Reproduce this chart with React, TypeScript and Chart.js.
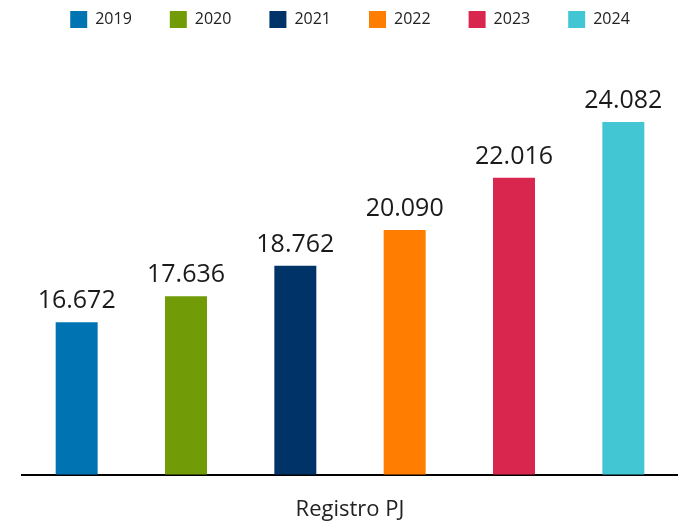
import React, { useEffect, useRef } from "react";
import { Chart, registerables } from "chart.js";

Chart.register(...registerables);

const categories = ["Registro PJ"];
const years = ["2019", "2020", "2021", "2022", "2023", "2024"];
const values = [16672, 17636, 18762, 20090, 22016, 24082];
const colors = ["#0073b2", "#729b08", "#003468", "#ff7d00", "#d8264e", "#43c6d4"];

const fmt = (v: number) => String(v).replace(/\B(?=(\d{3})+(?!\d))/g, ".");

const valueLabels = {
  id: "valueLabels",
  afterDatasetsDraw(chart: any) {
    const ctx = chart.ctx;
    ctx.save();
    ctx.font = '400 25px "Open Sans", sans-serif';
    ctx.fillStyle = "#1a1a1a";
    ctx.textAlign = "center";
    ctx.textBaseline = "alphabetic";
    chart.data.datasets.forEach((ds: any, i: number) => {
      const meta = chart.getDatasetMeta(i);
      meta.data.forEach((el: any, j: number) => {
        const v = ds.data[j];
        if (v == null) return;
        ctx.fillText(fmt(v), el.x, el.y - 14);
      });
    });
    ctx.restore();
  },
};

export default function App() {
  const ref = useRef<HTMLCanvasElement | null>(null);
  useEffect(() => {
    if (!ref.current) return;
    const chart = new Chart(ref.current, {
      type: "bar",
      data: {
        labels: categories,
        datasets: years.map((y, i) => ({
          label: y,
          data: [values[i]],
          backgroundColor: colors[i],
          borderWidth: 0,
          categoryPercentage: 1,
          barPercentage: 0.384,
        })),
      },
      options: {
        responsive: false,
        animation: false,
        layout: { padding: { top: -27, left: 22, right: 0, bottom: -22 } },
        plugins: {
          legend: {
            position: "top",
            labels: {
              boxWidth: 17,
              boxHeight: 17,
              padding: 38,
              color: "#222",
              font: { family: '"Open Sans", sans-serif', size: 16 },
            },
          },
          tooltip: { enabled: false },
        },
        scales: {
          x: {
            grid: { display: false, drawTicks: false },
            border: { display: true, color: "#000", width: 2 },
            ticks: {
              color: "#222",
              padding: 22,
              font: { family: '"Open Sans", sans-serif', size: 22 },
            },
          },
          y: {
            display: false,
            min: 11040,
            max: 27190,
          },
        },
      },
      plugins: [valueLabels],
    });
    return () => chart.destroy();
  }, []);
  return (
    <div style={{ position: "fixed", left: 0, top: 0, width: 678, height: 523, background: "#fff" }}>
      <canvas ref={ref} width={678} height={523} style={{ display: "block" }} />
    </div>
  );
}
